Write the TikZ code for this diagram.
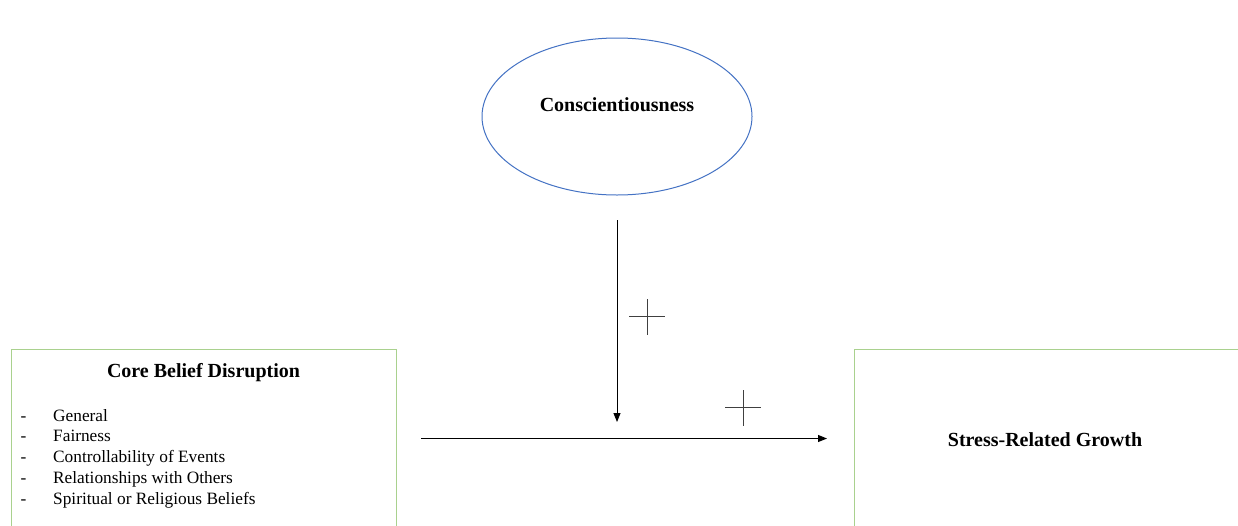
\documentclass[tikz,border=0pt]{standalone}
\usepackage{fontspec}
\setmainfont{Liberation Serif}
\usetikzlibrary{arrows.meta,shapes.geometric}
\definecolor{boxgreen}{HTML}{A9D18E}
\definecolor{ellblue}{HTML}{4472C4}
\tikzset{
  greenbox/.style={draw=boxgreen, line width=1pt, rectangle, inner sep=0pt, anchor=north west},
  titletext/.style={font=\fontsize{20}{24}\selectfont\bfseries, inner sep=0pt, anchor=base},
  itemtext/.style={font=\fontsize{17.3}{21}\selectfont, inner sep=0pt, anchor=base west},
  conn/.style={line width=1pt, -{Triangle[length=9pt,width=7pt]}},
  plusline/.style={line width=1pt, draw=black!75},
}
\begin{document}
\begin{tikzpicture}[x=1pt,y=-1pt]
\useasboundingbox (0,0) rectangle (1238,525);
\clip (0,0) rectangle (1238,525);
\fill[white] (0,0) rectangle (1238,525);
% ellipse
\node[draw=ellblue, line width=1pt, ellipse, minimum width=270pt, minimum height=157pt, inner sep=0pt] (consc) at (617,116.5) {};
\node[titletext] (consctext) at (617,111) {Conscientiousness};
% boxes
\node[greenbox, minimum width=385pt, minimum height=200pt] (cbd) at (11,349) {};
\node[greenbox, minimum width=400pt, minimum height=200pt] (srg) at (854,349) {};
\node[titletext] (cbdtitle) at (203.5,377.7) {Core Belief Disruption};
\foreach \y/\t [count=\i] in {421/General, 441.5/Fairness, 462.5/Controllability of Events, 483.3/Relationships with Others, 504/Spiritual or Religious Beliefs}{
  \node[itemtext] (dash\i) at (20.5,\y) {-};
  \node[itemtext] (item\i) at (53,\y) {\t};
}
\node[titletext] (srgtext) at (1045,446) {Stress-Related Growth};
% arrows
\coordinate (vstart) at (617,220);
\coordinate (vend) at (617,422);
\coordinate (hstart) at (421,438.5);
\coordinate (hend) at (827,438.5);
\draw[conn] (vstart) -- (vend);
\draw[conn] (hstart) -- (hend);
% plus signs
\coordinate (p1) at (647,316.7);
\coordinate (p2) at (743,407.7);
\foreach \p in {p1,p2}{
  \draw[plusline] ([xshift=-18pt]\p) -- ([xshift=18pt]\p);
  \draw[plusline] ([yshift=-18pt]\p) -- ([yshift=18pt]\p);
}
\end{tikzpicture}
\end{document}
